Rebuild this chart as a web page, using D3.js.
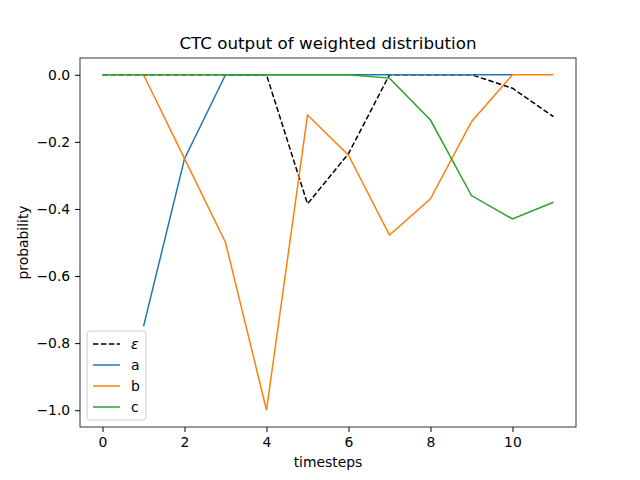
<!DOCTYPE html>
<html>
<head>
<meta charset="utf-8">
<script src="https://d3js.org/d3.v7.min.js"></script>
<style>body{margin:0;background:#fff}text{font-family:"DejaVu Sans",sans-serif}</style>
</head>
<body>
<svg id="chart" width="640" height="480"></svg>
<script>
var steps = [0,1,2,3,4,5,6,7,8,9,10,11];
var eps = [0,0,0,0,0,-0.385,-0.235,0,0,0,-0.04,-0.125];
var aVals = [null,-0.75,-0.25,0,0,0,0,0,0,0,0,null];
var bVals = [null,0,-0.25,-0.5,-1.0,-0.12,-0.24,-0.478,-0.37,-0.14,0,0];
var cVals = [0,0,0,0,0,0,0,-0.01,-0.135,-0.36,-0.43,-0.38];
var yTicks = [0,-0.2,-0.4,-0.6,-0.8,-1.0];

var svg = d3.select("#chart");
var L = 80, R = 576, T = 58, B = 427;
var x = d3.scaleLinear().domain([-0.55, 11.55]).range([L, R]);
var y = d3.scaleLinear().domain([-1.05, 0.05]).range([B, T]);

svg.append("g").attr("transform", "translate(0," + B + ")")
  .call(d3.axisBottom(x).tickValues([0,2,4,6,8,10]).tickSize(4.9).tickPadding(4.9).tickFormat(d3.format("d")));
svg.append("g").attr("transform", "translate(" + L + ",0)")
  .call(d3.axisLeft(y).tickValues(yTicks).tickSize(4.9).tickPadding(4.9).tickFormat(function(d){ return d3.format(".1f")(d).replace("-", "\u2212"); }));
svg.selectAll(".domain").remove();
svg.selectAll(".tick text").attr("font-size", 13.9).attr("fill", "#000");
svg.append("rect").attr("x", L).attr("y", T).attr("width", R - L).attr("height", B - T)
  .attr("fill", "none").attr("stroke", "#000").attr("stroke-width", 0.8);

var line = d3.line().defined(function(d){ return d != null; })
  .x(function(d, i){ return x(steps[i]); }).y(function(d){ return y(d); });
var series = [
  {name: "\u03b5", vals: eps, color: "#000", dash: "5.5,2.4", italic: true},
  {name: "a", vals: aVals, color: "#1f77b4"},
  {name: "b", vals: bVals, color: "#ff7f0e"},
  {name: "c", vals: cVals, color: "#2ca02c"}
];
series.forEach(function(s){
  svg.append("path").attr("d", line(s.vals)).attr("fill", "none")
    .attr("stroke", s.color).attr("stroke-width", 1.5).attr("stroke-dasharray", s.dash || null);
});

svg.append("text").attr("x", (L + R) / 2).attr("y", 49).attr("text-anchor", "middle")
  .attr("font-size", 16.7).text("CTC output of weighted distribution");
svg.append("text").attr("x", (L + R) / 2).attr("y", 467).attr("text-anchor", "middle")
  .attr("font-size", 13.9).text("timesteps");
svg.append("text").attr("transform", "translate(28," + (T + B) / 2 + ") rotate(-90)")
  .attr("text-anchor", "middle").attr("font-size", 13.9).text("probability");

var lg = svg.append("g").attr("transform", "translate(87,331)");
lg.append("rect").attr("width", 59).attr("height", 89).attr("rx", 3).attr("fill", "#fff")
  .attr("fill-opacity", 0.8).attr("stroke", "#ccc");
series.forEach(function(s, i){
  var yy = 13 + i * 21;
  lg.append("line").attr("x1", 6).attr("x2", 33).attr("y1", yy).attr("y2", yy)
    .attr("stroke", s.color).attr("stroke-width", 1.5).attr("stroke-dasharray", s.dash || null);
  lg.append("text").attr("x", 44).attr("y", yy + 5).attr("font-size", 13.9)
    .attr("font-style", s.italic ? "italic" : null).text(s.name);
});
</script>
</body>
</html>
